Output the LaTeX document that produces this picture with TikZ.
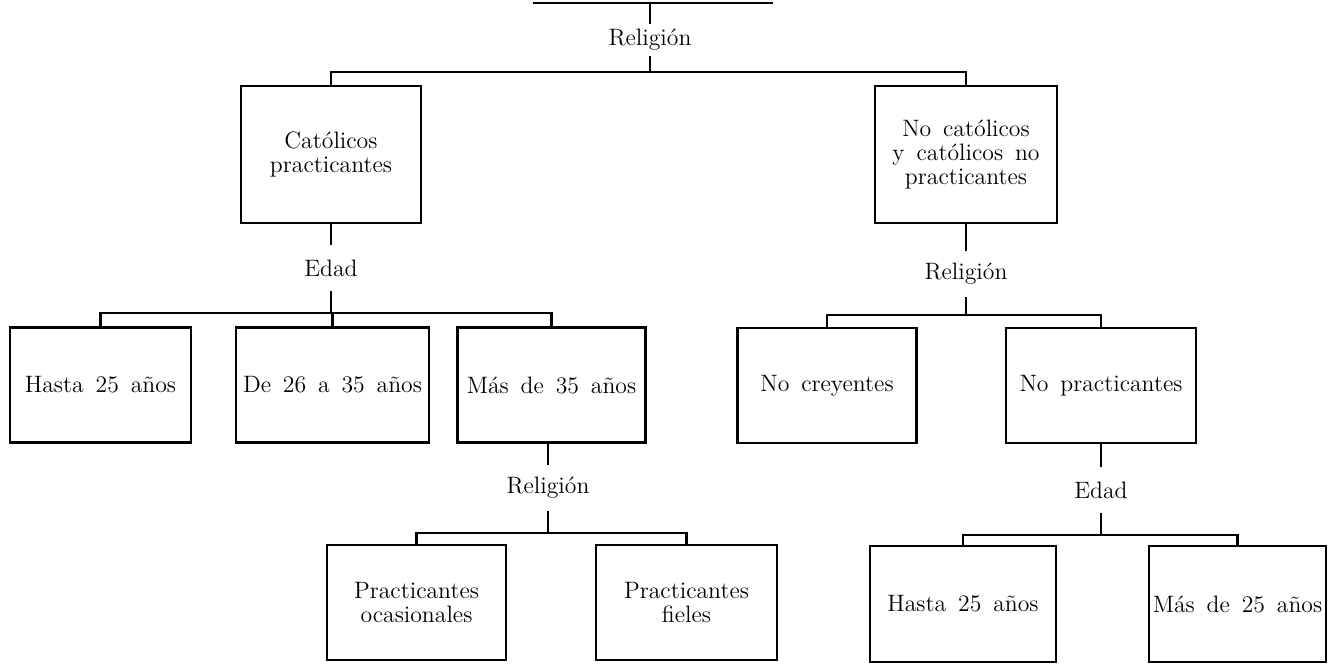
\documentclass[tikz,border=0pt]{standalone}
\usepackage{tikz}
\usetikzlibrary{positioning}

\begin{document}
\begin{tikzpicture}[x=0.02cm, y=-0.02cm,
        box/.style={draw, line width=1.4pt, align=center, inner sep=0pt, minimum height=2.3cm, font=\fontsize{13.5}{13.5}\selectfont, execute at begin node={\spaceskip=0.5em\relax}},
        tag/.style={inner sep=0pt, minimum height=0.9cm, font=\fontsize{13.5}{14}\selectfont},
        link/.style={line width=1.4pt}
    ]
    \useasboundingbox (0,0) rectangle (1332,664);

    % 第一层
    \coordinate (topL) at (533,3);
    \coordinate (topR) at (773,3);
    \coordinate (topM) at (650,3);
    \node[tag, minimum height=0.62cm] (rel0) at (650,40) {Religión};
    \node[box, minimum width=3.6cm, minimum height=2.74cm] (cat) at (331,154.5) {Católicos\\practicantes};
    \node[box, minimum width=3.64cm, minimum height=2.74cm] (nocat) at (966,154.5) {No católicos\\y católicos no\\practicantes};

    % 第二层
    \node[tag] (edadA) at (331,268) {Edad};
    \node[box, minimum width=3.62cm] (hasta1) at (100.5,385) {Hasta 25 años};
    \node[box, minimum width=3.86cm] (de26) at (332.5,385) {De 26 a 35 años};
    \node[box, minimum width=3.76cm] (mas35) at (551.5,385) {Más de 35 años};
    \node[tag] (relB) at (966,274) {Religión};
    \node[box, minimum width=3.58cm] (nocre) at (827,385.5) {No creyentes};
    \node[box, minimum width=3.8cm] (noprac) at (1101,385.5) {No practicantes};

    % 第三层
    \node[tag] (relC) at (548,488) {Religión};
    \node[box, minimum width=3.58cm] (ocas) at (416.5,602.5) {Practicantes\\ocasionales};
    \node[box, minimum width=3.62cm] (fieles) at (686.5,602.5) {Practicantes\\fieles};
    \node[tag] (edadD) at (1101,490) {Edad};
    \node[box, minimum width=3.72cm, minimum height=2.32cm] (hasta2) at (963,604) {Hasta 25 años};
    \node[box, minimum width=3.54cm, minimum height=2.32cm] (mas25) at (1237.5,604) {Más de 25 años};

    % 连线
    \coordinate (barO) at (650,72);
    \coordinate (barA) at (331,313);
    \coordinate (barB) at (966,315);
    \coordinate (barC) at (548,533);
    \coordinate (barD) at (1101,535);

    \draw[link] (topL) -- (topR);
    \draw[link] (topM) -- (rel0);
    \draw[link] (rel0) -- (barO);
    \draw[link] (cat.north) |- (barO) -| (nocat.north);

    \draw[link] (cat) -- (edadA);
    \draw[link] (edadA) -- (barA);
    \draw[link] (hasta1.north) |- (barA) -| (mas35.north);
    \draw[link] (de26.north) -- (de26.north |- barA);

    \draw[link] (nocat) -- (relB);
    \draw[link] (relB) -- (barB);
    \draw[link] (nocre.north) |- (barB) -| (noprac.north);

    \draw[link] (mas35.south -| relC) -- (relC);
    \draw[link] (relC) -- (barC);
    \draw[link] (ocas.north) |- (barC) -| (fieles.north);

    \draw[link] (noprac) -- (edadD);
    \draw[link] (edadD) -- (barD);
    \draw[link] (hasta2.north) |- (barD) -| (mas25.north);

    \end{tikzpicture}
\end{document}
